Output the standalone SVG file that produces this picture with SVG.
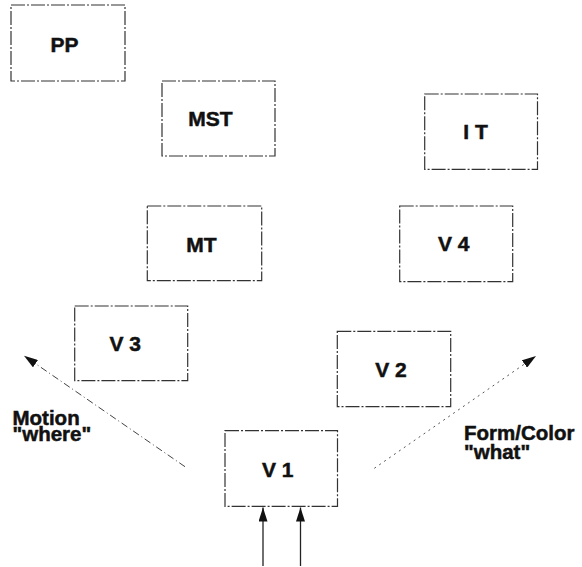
<svg xmlns="http://www.w3.org/2000/svg" width="582" height="567" viewBox="0 0 582 567">
  <defs>
    <style>
      .box { fill: #ffffff; stroke: #333333; stroke-width: 1.2; stroke-dasharray: 14 2 2 2; }
      .lbl { font-family: "Liberation Sans", Arial, sans-serif; font-weight: bold; font-size: 21px; fill: #111111; stroke: #111111; stroke-width: 0.5; text-anchor: middle; }
      .side { font-family: "Liberation Sans", Arial, sans-serif; font-weight: bold; font-size: 20.5px; fill: #111111; stroke: #111111; stroke-width: 0.5; }
      .up { stroke: #222222; stroke-width: 1.3; fill: none; }
      .motion { stroke: #444444; stroke-width: 1; fill: none; stroke-dasharray: 7 3 1 3; }
      .form { stroke: #555555; stroke-width: 1; fill: none; stroke-dasharray: 2 4; }
    </style>
    <marker id="head" markerUnits="userSpaceOnUse" markerWidth="15" markerHeight="9" refX="14" refY="4.5" orient="auto">
      <path d="M0,0 L14,4.5 L0,9 z" fill="#111111"/>
    </marker>
  </defs>

  <g id="PP"><rect class="box" x="11" y="5" width="114" height="76"/><text class="lbl" x="64.5" y="51.5">PP</text></g>
  <g id="MST"><rect class="box" x="162" y="81" width="113" height="75"/><text class="lbl" x="210.5" y="126">MST</text></g>
  <g id="IT"><rect class="box" x="424.7" y="94" width="112.8" height="75.3"/><text class="lbl" x="475.5" y="139.3">I T</text></g>
  <g id="MT"><rect class="box" x="147.3" y="206" width="114.4" height="74.7"/><text class="lbl" x="201.4" y="251.7">MT</text></g>
  <g id="V4"><rect class="box" x="399.7" y="206" width="113" height="75.7"/><text class="lbl" x="453.7" y="251">V 4</text></g>
  <g id="V3"><rect class="box" x="74.7" y="306" width="113" height="74.7"/><text class="lbl" x="125.3" y="351">V 3</text></g>
  <g id="V2"><rect class="box" x="337.3" y="331.3" width="113.4" height="75.4"/><text class="lbl" x="391" y="376.7">V 2</text></g>
  <g id="V1"><rect class="box" x="225" y="430.7" width="112.5" height="75.6"/><text class="lbl" x="277.7" y="476.7">V 1</text></g>

  <g id="connectors">
    <line class="up" x1="263" y1="566" x2="263" y2="507.5" marker-end="url(#head)"/>
    <line class="up" x1="300.5" y1="566" x2="300.5" y2="507.5" marker-end="url(#head)"/>
    <line class="motion" x1="185" y1="466.7" x2="24" y2="355.7" marker-end="url(#head)"/>
    <line class="form" x1="374.3" y1="468.3" x2="536" y2="356" marker-end="url(#head)"/>
  </g>

  <g id="labels">
    <text class="side" x="12.5" y="425"><tspan x="12.5" y="425">Motion</tspan><tspan x="12.5" y="441">"where"</tspan></text>
    <text class="side" x="464" y="439.5"><tspan x="464" y="439.5">Form/Color</tspan><tspan x="464" y="458.5">"what"</tspan></text>
  </g>
</svg>
